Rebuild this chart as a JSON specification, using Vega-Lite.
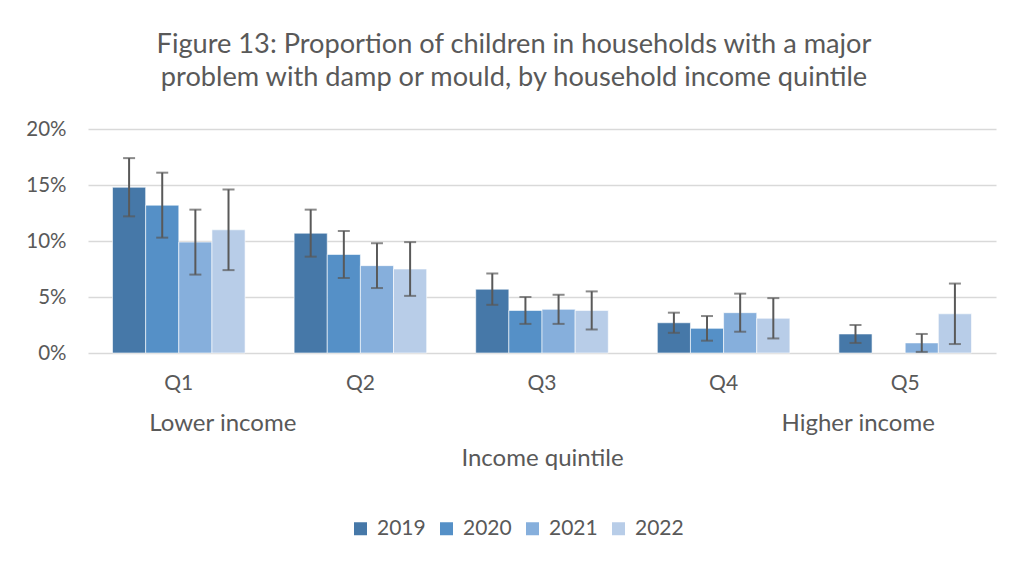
{
  "$schema": "https://vega.github.io/schema/vega-lite/v6.json",
  "width": 908,
  "height": 224,
  "autosize": {"type": "none"},
  "padding": {"left": 88, "top": 129, "right": 16, "bottom": 210},
  "background": "white",
  "config": {
    "font": "Lato",
    "view": {"stroke": null},
    "axis": {"labelColor": "#595959", "titleColor": "#595959", "labelFont": "Lato", "titleFont": "Lato"},
    "legend": {"labelColor": "#595959", "labelFont": "Lato"}
  },
  "title": {
    "text": ["Figure 13: Proportion of children in households with a major", "problem with damp or mould, by household income quintile"],
    "fontSize": 27.2,
    "font": "Lato",
    "fontWeight": "normal",
    "color": "#595959",
    "lineHeight": 33,
    "anchor": "middle",
    "frame": "group",
    "dx": -28,
    "offset": 27
  },
  "datasets": {
    "main": [
      {"quintile": "Q1", "year": "2019", "value": 0.148, "lo": 0.122, "hi": 0.174},
      {"quintile": "Q1", "year": "2020", "value": 0.132, "lo": 0.103, "hi": 0.161},
      {"quintile": "Q1", "year": "2021", "value": 0.099, "lo": 0.070, "hi": 0.128},
      {"quintile": "Q1", "year": "2022", "value": 0.110, "lo": 0.074, "hi": 0.146},
      {"quintile": "Q2", "year": "2019", "value": 0.107, "lo": 0.086, "hi": 0.128},
      {"quintile": "Q2", "year": "2020", "value": 0.088, "lo": 0.067, "hi": 0.109},
      {"quintile": "Q2", "year": "2021", "value": 0.078, "lo": 0.058, "hi": 0.098},
      {"quintile": "Q2", "year": "2022", "value": 0.075, "lo": 0.051, "hi": 0.099},
      {"quintile": "Q3", "year": "2019", "value": 0.057, "lo": 0.043, "hi": 0.071},
      {"quintile": "Q3", "year": "2020", "value": 0.038, "lo": 0.026, "hi": 0.050},
      {"quintile": "Q3", "year": "2021", "value": 0.039, "lo": 0.026, "hi": 0.052},
      {"quintile": "Q3", "year": "2022", "value": 0.038, "lo": 0.021, "hi": 0.055},
      {"quintile": "Q4", "year": "2019", "value": 0.027, "lo": 0.018, "hi": 0.036},
      {"quintile": "Q4", "year": "2020", "value": 0.022, "lo": 0.011, "hi": 0.033},
      {"quintile": "Q4", "year": "2021", "value": 0.036, "lo": 0.019, "hi": 0.053},
      {"quintile": "Q4", "year": "2022", "value": 0.031, "lo": 0.013, "hi": 0.049},
      {"quintile": "Q5", "year": "2019", "value": 0.017, "lo": 0.009, "hi": 0.025},
      {"quintile": "Q5", "year": "2021", "value": 0.009, "lo": 0.001, "hi": 0.017},
      {"quintile": "Q5", "year": "2022", "value": 0.035, "lo": 0.008, "hi": 0.062}
    ],
    "notes": [
      {"quintile": "Q1", "label": "Lower income", "pos": -0.063},
      {"quintile": "Q5", "label": "Higher income", "pos": -0.063}
    ]
  },
  "layer": [
    {
      "data": {"name": "main"},
      "mark": {"type": "bar", "stroke": "white", "strokeOpacity": 0.6, "strokeWidth": 1},
      "encoding": {
        "x": {
          "field": "quintile", "type": "nominal",
          "scale": {"paddingInner": 0.27, "paddingOuter": 0.135},
          "axis": {"labelAngle": 0, "labelFontSize": 21, "labelPadding": 19, "ticks": false, "domain": false,
                   "title": "Income quintile", "titleFontSize": 24, "titleFontWeight": "normal", "titlePadding": 53}
        },
        "xOffset": {"field": "year", "type": "nominal", "scale": {"paddingInner": 0, "paddingOuter": 0}},
        "y": {
          "field": "value", "type": "quantitative",
          "scale": {"domain": [0, 0.2]},
          "axis": {"values": [0, 0.05, 0.1, 0.15, 0.2], "format": "%", "labelFontSize": 20.5, "labelPadding": 22,
                   "ticks": false, "domain": false, "title": null, "gridColor": "#D9D9D9", "gridWidth": 1.5}
        },
        "color": {
          "field": "year", "type": "nominal",
          "scale": {"domain": ["2019", "2020", "2021", "2022"], "range": ["#4678A8", "#5590C7", "#86AFDC", "#B8CDE8"]},
          "legend": {"title": null, "orient": "none", "direction": "horizontal", "legendX": 262, "legendY": 389,
                     "symbolType": "square", "symbolSize": 169, "symbolStrokeWidth": 0, "labelFontSize": 21,
                     "labelOffset": 6, "columnPadding": 10, "padding": 0}
        }
      }
    },
    {
      "data": {"name": "main"},
      "mark": {"type": "rule", "color": "#595959", "strokeWidth": 2},
      "encoding": {
        "x": {"field": "quintile", "type": "nominal"},
        "xOffset": {"field": "year", "type": "nominal"},
        "y": {"field": "lo", "type": "quantitative"},
        "y2": {"field": "hi"}
      }
    },
    {
      "data": {"name": "main"},
      "mark": {"type": "tick", "color": "#595959", "thickness": 2, "size": 12, "orient": "horizontal"},
      "encoding": {
        "x": {"field": "quintile", "type": "nominal"},
        "xOffset": {"field": "year", "type": "nominal"},
        "y": {"field": "lo", "type": "quantitative"}
      }
    },
    {
      "data": {"name": "main"},
      "mark": {"type": "tick", "color": "#595959", "thickness": 2, "size": 12, "orient": "horizontal"},
      "encoding": {
        "x": {"field": "quintile", "type": "nominal"},
        "xOffset": {"field": "year", "type": "nominal"},
        "y": {"field": "hi", "type": "quantitative"}
      }
    },
    {
      "data": {"name": "notes"},
      "transform": [{"filter": "datum.quintile == 'Q1'"}],
      "mark": {"type": "text", "fontSize": 24, "color": "#595959", "dx": 44, "baseline": "middle"},
      "encoding": {
        "x": {"field": "quintile", "type": "nominal"},
        "y": {"field": "pos", "type": "quantitative"},
        "text": {"field": "label"}
      }
    },
    {
      "data": {"name": "notes"},
      "transform": [{"filter": "datum.quintile == 'Q5'"}],
      "mark": {"type": "text", "fontSize": 24, "color": "#595959", "dx": -47, "baseline": "middle"},
      "encoding": {
        "x": {"field": "quintile", "type": "nominal"},
        "y": {"field": "pos", "type": "quantitative"},
        "text": {"field": "label"}
      }
    }
  ]
}
